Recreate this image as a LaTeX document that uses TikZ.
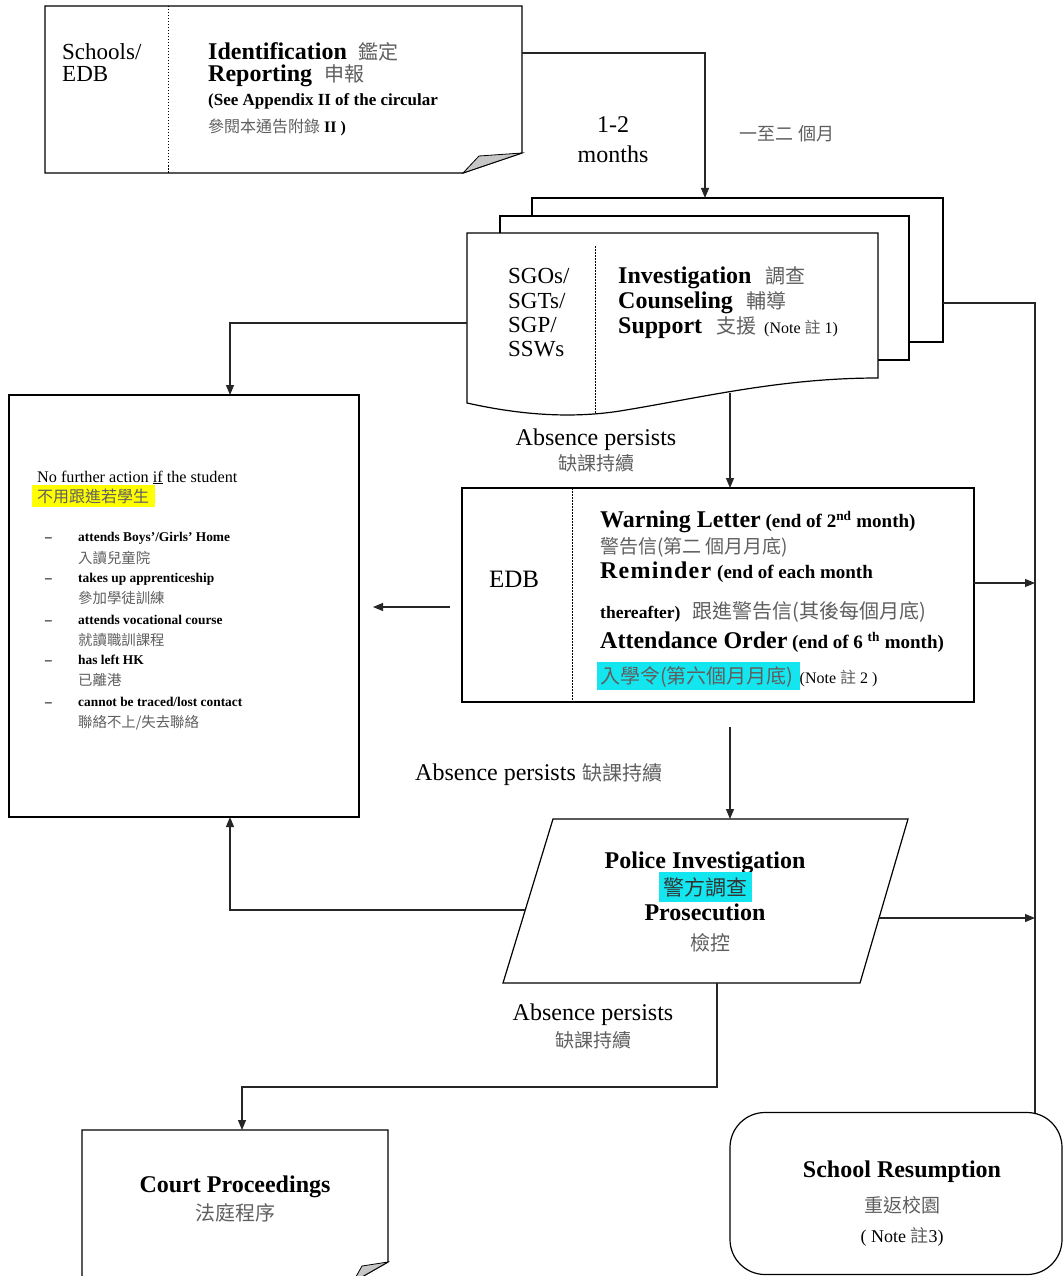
\documentclass[tikz,border=0pt]{standalone}
\usepackage{fontspec}
\setmainfont{Liberation Serif}
\newfontfamily\cjk{Noto Sans CJK TC}
\usetikzlibrary{arrows.meta,shapes.geometric}
\definecolor{zhgray}{RGB}{95,95,95}
\definecolor{hlcyan}{RGB}{20,230,240}
\definecolor{hlyellow}{RGB}{255,255,0}
\newcommand\myfs[1]{\fontsize{#1}{#1}\selectfont}
\newcommand\zh[2]{{\fontsize{#1}{#1}\selectfont\cjk\color{zhgray}#2}}
\tikzset{
  box/.style={draw=black, line width=1.2pt, fill=white},
  conn/.style={draw=black!85, line width=1.1pt},
  arr/.style={conn, -{Triangle[length=10pt,width=8pt]}},
  txt/.style={inner sep=0pt, anchor=base west},
  ctxt/.style={inner sep=0pt, anchor=base},
  divider/.style={line width=1pt, dash pattern=on 1.5pt off 1.5pt},
  flap/.style={fill=gray!45, draw=black, line width=0.8pt},
  nodebox/.style={box, inner sep=0pt}
}
\begin{document}
\begin{tikzpicture}[x=1pt,y=-1pt]
\useasboundingbox (0,0) rectangle (1064,1276);
\clip (0,0) rectangle (1064,1276);
\fill[white] (0,0) rectangle (1064,1276);

% ---------- top document ----------
\filldraw[box] (45,6) -- (522,6) -- (522,153) -- (463,173) -- (45,173) -- cycle;
\filldraw[flap] (522,153) -- (463,173) -- (479,156) -- cycle;
\draw[divider] (168,6) -- (168,173);
\node[txt] (t1) at (62,60) {\myfs{23}Schools/};
\node[txt] (t2) at (62,82) {\myfs{23}EDB};
\node[txt] (t3) at (208,60) {\myfs{24}\textbf{Identification}\hspace{12pt}\zh{20}{鑑定}};
\node[txt] (t4) at (208,82) {\myfs{24}\textbf{Reporting}\hspace{12pt}\zh{20}{申報}};
\node[txt] (t5) at (208,106) {\myfs{17}\textbf{(See Appendix II of the circular}};
\node[txt] (t6) at (208,133) {\zh{16}{參閱本通告附錄}\myfs{16}\textbf{ II )}};
\coordinate (topR) at (522,53);

% ---------- 1-2 months ----------
\node[ctxt] (m1) at (613,133) {\myfs{24}1-2};
\node[ctxt] (m2) at (613,163) {\myfs{24}months};
\node[ctxt] (m3) at (787,141) {\zh{18}{一至二 個月}};

% ---------- multi document ----------
\filldraw[box] (532,198) rectangle (943,342);
\filldraw[box] (500,216) rectangle (909,360);
\filldraw[box] (467,233) -- (878,233) -- (878,378)
  .. controls (780,378) and (700,398) .. (620,411)
  .. controls (575,418) and (525,416) .. (467,403) -- cycle;
\draw[divider] (595,246) -- (595,413);
\coordinate (docT) at (705,198);
\coordinate (docL) at (467,323);
\coordinate (docR) at (943,303);
\coordinate (docB) at (730,393);
\node[txt] (s1) at (508,283) {\myfs{23}SGOs/};
\node[txt] (s2) at (508,308) {\myfs{23}SGTs/};
\node[txt] (s3) at (508,332) {\myfs{23}SGP/};
\node[txt] (s4) at (508,356) {\myfs{23}SSWs};
\node[txt] (i1) at (618,283) {\myfs{24}\textbf{Investigation}\hspace{14pt}\zh{20}{調查}};
\node[txt] (i2) at (618,308) {\myfs{24}\textbf{Counseling}\hspace{14pt}\zh{20}{輔導}};
\node[txt] (i3) at (618,333) {\myfs{24}\textbf{Support}\hspace{14pt}\zh{20}{支援}\hspace{8pt}\myfs{16}(Note \zh{16}{註} 1)};

\draw[arr] (topR) -| (docT);

% ---------- absence persists 1 ----------
\node[ctxt] (ab1) at (596,445) {\myfs{24}Absence persists};
\node[ctxt] (ab1z) at (596,470) {\zh{19}{缺課持續}};

% ---------- left box ----------
\node[nodebox, minimum width=350pt, minimum height=422pt] (leftbox) at (184,606) {};
\node[txt] (n1) at (37,482) {\myfs{16.2}No further action \underline{if} the student};
\fill[hlyellow] (32,485) rectangle (155,507);
\node[txt] (n2) at (37,502) {\zh{16}{不用跟進若學生}};
\node[txt] (d1) at (45,541) {\myfs{13.4}\textbf{--}};
\node[txt] (e1) at (78,541) {\myfs{13.4}\textbf{attends Boys’/Girls’ Home}};
\node[txt] (c1) at (78,563) {\zh{14.4}{入讀兒童院}};
\node[txt] (d2) at (45,582) {\myfs{13.4}\textbf{--}};
\node[txt] (e2) at (78,582) {\myfs{13.4}\textbf{takes up apprenticeship}};
\node[txt] (c2) at (78,603) {\zh{14.4}{參加學徒訓練}};
\node[txt] (d3) at (45,624) {\myfs{13.4}\textbf{--}};
\node[txt] (e3) at (78,624) {\myfs{13.4}\textbf{attends vocational course}};
\node[txt] (c3) at (78,645) {\zh{14.4}{就讀職訓課程}};
\node[txt] (d4) at (45,664) {\myfs{13.4}\textbf{--}};
\node[txt] (e4) at (78,664) {\myfs{13.4}\textbf{has left HK}};
\node[txt] (c4) at (78,685) {\zh{14.4}{已離港}};
\node[txt] (d5) at (45,706) {\myfs{13.4}\textbf{--}};
\node[txt] (e5) at (78,706) {\myfs{13.4}\textbf{cannot be traced/lost contact}};
\node[txt] (c5) at (78,727) {\zh{14.4}{聯絡不上/失去聯絡}};
\coordinate (lbT) at (230,395);
\coordinate (lbB) at (230,817);
\draw[arr] (docL) -| (lbT);

% ---------- EDB box ----------
\node[nodebox, minimum width=512pt, minimum height=214pt] (edb) at (718,595) {};
\draw[divider] (572,488) -- (572,702);
\coordinate (edbT) at (730,488);
\draw[arr] (docB) -- (edbT);
\node[ctxt] (edbl) at (514,587) {\myfs{25}EDB};
\node[txt] (w1) at (600,527) {\myfs{24}\textbf{Warning Letter}\myfs{19}\textbf{ (end of 2\textsuperscript{nd} month)}};
\node[txt] (w2) at (600,553) {\zh{19}{警告信(第二 個月月底)}};
\node[txt] (w3) at (600,578) {\myfs{24}{\addfontfeature{LetterSpace=5}\textbf{Reminder}}\myfs{19}\textbf{ (end of each month}};
\node[txt] (w4) at (600,618) {\myfs{17.5}\textbf{thereafter)}\hspace{12pt}\zh{20}{跟進警告信(其後每個月底)}};
\node[txt] (w5) at (600,648) {\myfs{24}\textbf{Attendance Order}\myfs{19}\textbf{ (end of 6 \textsuperscript{th} month)}};
\fill[hlcyan] (597,662) rectangle (800,690);
\node[txt] (w6) at (600,683) {\zh{20}{入學令(第六個月月底)}\hspace{6pt}\myfs{16}(Note \zh{16}{註} 2 )};
\coordinate (edbR) at (974,583);
\coordinate (rarr1) at (1035,583);
\draw[arr] (edbR) -- (rarr1);
\coordinate (ea1) at (450,607);
\coordinate (ea2) at (373,607);
\draw[arr] (ea1) -- (ea2);

% ---------- absence persists 2 ----------
\node[txt] (ab2) at (415,780) {\myfs{24}Absence persists\hspace{7pt}\zh{20}{缺課持續}};

% ---------- police ----------
\filldraw[box] (553,819) -- (908,819) -- (860,983) -- (503,983) -- cycle;
\coordinate (edbB) at (730,727);
\coordinate (polT) at (730,819);
\draw[arr] (edbB) -- (polT);
\node[ctxt] (p1) at (705,868) {\myfs{24}\textbf{Police Investigation}};
\fill[hlcyan] (659,872) rectangle (752,902);
\node[ctxt] (p2) at (705,895) {\zh{21}{\color{black!80}警方調查}};
\node[ctxt] (p3) at (705,920) {\myfs{24}\textbf{Prosecution}};
\node[ctxt] (p4) at (710,950) {\zh{20}{檢控}};
\coordinate (polL) at (525,910);
\draw[arr] (polL) -| (lbB);
\coordinate (polR) at (879,918);
\coordinate (rarr2) at (1035,918);
\draw[arr] (polR) -- (rarr2);

% ---------- absence persists 3 ----------
\node[ctxt] (ab3) at (593,1020) {\myfs{24}Absence persists};
\node[ctxt] (ab3z) at (593,1047) {\zh{19}{缺課持續}};

% ---------- court ----------
\filldraw[box] (82,1130) -- (388,1130) -- (388,1262) -- (353,1282) -- (82,1282) -- cycle;
\filldraw[flap] (388,1262) -- (353,1282) -- (362,1266) -- cycle;
\node[ctxt] (cp1) at (235,1192) {\myfs{24}\textbf{Court Proceedings}};
\node[ctxt] (cp2) at (235,1220) {\zh{20}{法庭程序}};
\coordinate (polB) at (717,983);
\coordinate (bend) at (717,1087);
\coordinate (crtT) at (242,1130);
\draw[arr] (polB) -- (bend) -| (crtT);

% ---------- school resumption ----------
\node[nodebox, rounded corners=35pt, minimum width=332pt, minimum height=162pt] (school) at (896,1193.5) {};
\node[ctxt] (sr1) at (902,1177) {\myfs{24}\textbf{School Resumption}};
\node[ctxt] (sr2) at (902,1212) {\zh{19}{重返校園}};
\node[ctxt] (sr3) at (902,1242) {\myfs{18}( Note \zh{18}{註}3)};
\coordinate (rline) at (1035,303);
\coordinate (schT) at (1035,1113);
\draw[conn] (docR) -- (rline) -- (schT);
\end{tikzpicture}
\end{document}
